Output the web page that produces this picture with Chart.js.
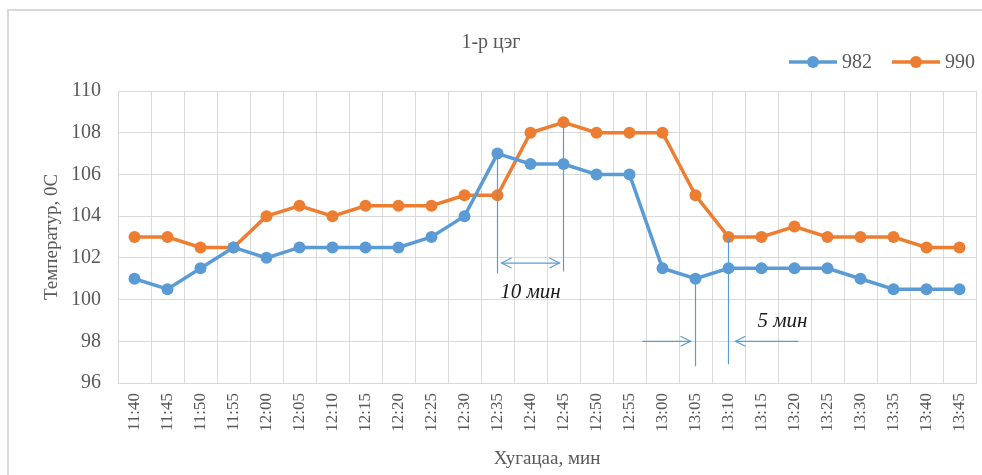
<!DOCTYPE html>
<html>
<head>
<meta charset="utf-8">
<script src="https://cdn.jsdelivr.net/npm/chart.js@4/dist/chart.umd.min.js"></script>
<style>
  html, body { margin: 0; padding: 0; background: #ffffff; }
  canvas { display: block; }
</style>
</head>
<body>
<canvas id="chart" width="982" height="475"></canvas>
<script>
// Measurement times (x categories)
const times = ['11:40', '11:45', '11:50', '11:55', '12:00', '12:05', '12:10', '12:15', '12:20',
  '12:25', '12:30', '12:35', '12:40', '12:45', '12:50', '12:55', '13:00', '13:05', '13:10',
  '13:15', '13:20', '13:25', '13:30', '13:35', '13:40', '13:45'];

// Temperatures, °C
const series982 = [101, 100.5, 101.5, 102.5, 102, 102.5, 102.5, 102.5, 102.5, 103, 104, 107,
  106.5, 106.5, 106, 106, 101.5, 101, 101.5, 101.5, 101.5, 101.5, 101, 100.5, 100.5, 100.5];
const series990 = [103, 103, 102.5, 102.5, 104, 104.5, 104, 104.5, 104.5, 104.5, 105, 105,
  108, 108.5, 108, 108, 108, 105, 103, 103, 103.5, 103, 103, 103, 102.5, 102.5];

const seriesNames = ['982', '990'];
const yMin = 96, yMax = 110, yStep = 2;

const chartTitle = '1-р цэг';
const yTitle = 'Температур, 0С';
const xTitle = 'Хугацаа, мин';

// Delay markers between the two lines (time of the change on each series)
const delayLabels = ['10 мин', '5 мин'];
const delayFrom = ['12:35', '13:05'];   // on series 982
const delayTo = ['12:45', '13:10'];     // on series 990

const BLUE = '#5b9bd5';
const ORANGE = '#ed7d31';
const TEXT = '#595959';
const GRID = '#d9d9d9';
const SERIF = '"Liberation Serif", "Times New Roman", serif';

// Drawing geometry of the delay markers, in axis units
const markerStyle = [
  { lineBottom: 101.25, arrowAt: 101.75, textAt: 100.35, kind: 'inner' },
  { lineBottom: 96.8, arrowAt: 98, textAt: 98.95, kind: 'outer', textShift: 54 }
];

function arrowHead(ctx, x, y, dir) {
  // open chevron pointing in direction dir (+1 right, -1 left)
  ctx.beginPath();
  ctx.moveTo(x - dir * 10, y - 5);
  ctx.lineTo(x, y);
  ctx.lineTo(x - dir * 10, y + 5);
  ctx.stroke();
}

const frame = {
  id: 'frame',
  beforeDraw(chart) {
    const ctx = chart.ctx;
    ctx.save();
    ctx.fillStyle = '#ffffff';
    ctx.fillRect(0, 0, chart.width, chart.height);
    ctx.strokeStyle = GRID;
    ctx.lineWidth = 2;
    ctx.beginPath();
    ctx.moveTo(8, chart.height);
    ctx.lineTo(8, 10);
    ctx.lineTo(chart.width, 10);
    ctx.stroke();
    ctx.restore();
  },
  afterDraw(chart) {
    const ctx = chart.ctx;
    ctx.save();
    // title
    ctx.fillStyle = TEXT;
    ctx.font = '20px ' + SERIF;
    ctx.textAlign = 'center';
    ctx.textBaseline = 'middle';
    ctx.fillText(chartTitle, chart.width / 2, 43);

    // legend, right aligned
    ctx.font = '20px ' + SERIF;
    ctx.textAlign = 'left';
    const lineLen = 48, gap = 5, itemGap = 20;
    const widths = chart.data.datasets.map(d => ctx.measureText(d.label).width);
    let total = 0;
    widths.forEach((w, i) => { total += lineLen + gap + w + (i ? itemGap : 0); });
    let x = 975 - total;
    const y = 62;
    chart.data.datasets.forEach((d, i) => {
      ctx.strokeStyle = d.borderColor;
      ctx.lineWidth = 3.5;
      ctx.beginPath();
      ctx.moveTo(x, y);
      ctx.lineTo(x + lineLen, y);
      ctx.stroke();
      ctx.fillStyle = d.borderColor;
      ctx.beginPath();
      ctx.arc(x + lineLen / 2, y, 6, 0, Math.PI * 2);
      ctx.fill();
      ctx.fillStyle = TEXT;
      ctx.fillText(d.label, x + lineLen + gap, y + 1);
      x += lineLen + gap + widths[i] + itemGap;
    });
    ctx.restore();
  },
  afterDatasetsDraw(chart) {
    const ctx = chart.ctx;
    const xs = chart.scales.x, ys = chart.scales.y;
    ctx.save();
    ctx.strokeStyle = BLUE;
    ctx.lineWidth = 1.2;
    delayLabels.forEach((label, k) => {
      const st = markerStyle[k];
      const i1 = times.indexOf(delayFrom[k]);
      const i2 = times.indexOf(delayTo[k]);
      const x1 = xs.getPixelForValue(i1);
      const x2 = xs.getPixelForValue(i2);
      const y1 = ys.getPixelForValue(series982[i1]);
      const y2 = ys.getPixelForValue(series990[i2]);
      const yb = ys.getPixelForValue(st.lineBottom);
      const ya = ys.getPixelForValue(st.arrowAt);
      ctx.beginPath();
      ctx.moveTo(x1, y1); ctx.lineTo(x1, yb);
      ctx.moveTo(x2, y2); ctx.lineTo(x2, yb - 2);
      ctx.stroke();
      let tx;
      if (st.kind === 'inner') {
        ctx.beginPath();
        ctx.moveTo(x1 + 4, ya); ctx.lineTo(x2 - 4, ya);
        ctx.stroke();
        arrowHead(ctx, x1 + 4, ya, -1);
        arrowHead(ctx, x2 - 4, ya, 1);
        tx = (x1 + x2) / 2;
      } else {
        ctx.beginPath();
        ctx.moveTo(x1 - 53, ya); ctx.lineTo(x1 - 5, ya);
        ctx.moveTo(x2 + 70, ya); ctx.lineTo(x2 + 7, ya);
        ctx.stroke();
        arrowHead(ctx, x1 - 5, ya, 1);
        arrowHead(ctx, x2 + 7, ya, -1);
        tx = x2 + st.textShift;
      }
      ctx.fillStyle = '#1a1a1a';
      ctx.font = 'italic 21px ' + SERIF;
      ctx.textAlign = 'center';
      ctx.textBaseline = 'middle';
      ctx.fillText(label, tx, ys.getPixelForValue(st.textAt));
    });
    ctx.restore();
  }
};

new Chart(document.getElementById('chart'), {
  type: 'line',
  data: {
    labels: times,
    datasets: [
      { label: seriesNames[0], data: series982, borderColor: BLUE, backgroundColor: BLUE,
        pointBackgroundColor: BLUE, borderWidth: 3.5, pointRadius: 6, pointHoverRadius: 6,
        pointBorderWidth: 0, tension: 0 },
      { label: seriesNames[1], data: series990, borderColor: ORANGE, backgroundColor: ORANGE,
        pointBackgroundColor: ORANGE, borderWidth: 3.5, pointRadius: 6, pointHoverRadius: 6,
        pointBorderWidth: 0, tension: 0 }
    ]
  },
  options: {
    responsive: false,
    animation: false,
    events: [],
    layout: { padding: { top: 91, right: 6, left: 0, bottom: 0 } },
    plugins: { legend: { display: false }, title: { display: false }, tooltip: { enabled: false } },
    scales: {
      x: {
        offset: true,
        grid: { offset: true, color: GRID, lineWidth: 1, drawTicks: false },
        border: { color: GRID, width: 1 },
        ticks: { color: TEXT, font: { family: SERIF, size: 17 }, minRotation: 90, maxRotation: 90,
          autoSkip: false, padding: 10 },
        title: { display: true, text: xTitle, color: TEXT, font: { family: SERIF, size: 19 },
          padding: { top: 0, bottom: 5 } },
        afterFit(scale) {
          scale.height = 92;
          scale.paddingLeft = 0;
          scale.paddingRight = 0;
        }
      },
      y: {
        min: yMin, max: yMax,
        grid: { color: GRID, lineWidth: 1, drawTicks: false },
        border: { color: GRID, width: 1 },
        ticks: { stepSize: yStep, color: TEXT, font: { family: SERIF, size: 20 }, padding: 17 },
        title: { display: true, text: yTitle, color: TEXT, font: { family: SERIF, size: 19 },
          padding: { top: 41, bottom: 0 } },
        afterFit(scale) {
          scale.width = 118;
          scale.paddingTop = 0;
          scale.paddingBottom = 0;
        }
      }
    }
  },
  plugins: [frame]
});
</script>
</body>
</html>
